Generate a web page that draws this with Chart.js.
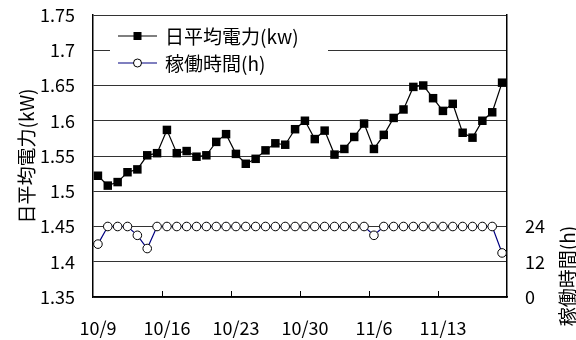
<!DOCTYPE html>
<html>
<head>
<meta charset="utf-8">
<script src="https://cdn.jsdelivr.net/npm/chart.js@4"></script>
<style>
  html, body { margin: 0; padding: 0; background: #fff; }
  #powerChart { display: block; }
</style>
</head>
<body>
<canvas id="powerChart" width="576" height="340"></canvas>
<script>
const jpFont = '"Noto Sans CJK JP", "Noto Sans", sans-serif';

// 日付（10/9〜11/19）
const days = [
  '10/9', '10/10', '10/11', '10/12', '10/13', '10/14', '10/15',
  '10/16', '10/17', '10/18', '10/19', '10/20', '10/21', '10/22',
  '10/23', '10/24', '10/25', '10/26', '10/27', '10/28', '10/29',
  '10/30', '10/31', '11/1', '11/2', '11/3', '11/4', '11/5',
  '11/6', '11/7', '11/8', '11/9', '11/10', '11/11', '11/12',
  '11/13', '11/14', '11/15', '11/16', '11/17', '11/18', '11/19'
];

// 日平均電力 (kW)
const avgPower = [
  1.522, 1.508, 1.513, 1.527, 1.531, 1.551, 1.554,
  1.587, 1.554, 1.557, 1.549, 1.551, 1.570, 1.581,
  1.553, 1.539, 1.546, 1.558, 1.568, 1.566, 1.588,
  1.600, 1.574, 1.586, 1.552, 1.560, 1.577, 1.596,
  1.560, 1.580, 1.604, 1.616, 1.648, 1.650, 1.632,
  1.614, 1.624, 1.583, 1.576, 1.600, 1.612, 1.654
];

// 稼働時間 (h)
const runHours = [
  18, 24, 24, 24, 21, 16.5, 24,
  24, 24, 24, 24, 24, 24, 24,
  24, 24, 24, 24, 24, 24, 24,
  24, 24, 24, 24, 24, 24, 24,
  21, 24, 24, 24, 24, 24, 24,
  24, 24, 24, 24, 24, 24, 15
];

// 軸の目盛り
const powerTicks = [1.35, 1.4, 1.45, 1.5, 1.55, 1.6, 1.65, 1.7, 1.75];
const hourTicks = [0, 12, 24];
const labelEvery = 7;

// 凡例（グラフ内の白抜きボックス）と内向きの目盛り線、右軸タイトル
const extras = {
  id: 'extras',
  afterDraw(chart) {
    const { ctx, chartArea, scales } = chart;
    const x = scales.x;

    // x軸の内向き目盛り（7日ごとの区切り）
    ctx.save();
    ctx.strokeStyle = '#000';
    ctx.lineWidth = 1;
    for (let i = labelEvery; i < days.length; i += labelEvery) {
      const px = Math.round((x.getPixelForValue(i - 1) + x.getPixelForValue(i)) / 2) + 0.5;
      ctx.beginPath();
      ctx.moveTo(px, chartArea.bottom);
      ctx.lineTo(px, chartArea.bottom - 6);
      ctx.stroke();
    }
    ctx.restore();

    // 凡例
    ctx.save();
    const boxL = chartArea.left + 17, boxT = chartArea.top + 6;
    ctx.fillStyle = '#fff';
    ctx.fillRect(boxL, boxT, 218, 58);
    chart.data.datasets.forEach((ds, i) => {
      const cy = boxT + 15 + i * 27;
      const x0 = boxL + 8, x1 = boxL + 47, mx = (x0 + x1) / 2;
      ctx.strokeStyle = ds.borderColor;
      ctx.lineWidth = 1.2;
      ctx.beginPath();
      ctx.moveTo(x0, cy);
      ctx.lineTo(x1, cy);
      ctx.stroke();
      ctx.fillStyle = ds.pointBackgroundColor;
      ctx.strokeStyle = ds.pointBorderColor;
      ctx.lineWidth = 1;
      if (ds.pointStyle === 'rect') {
        ctx.fillRect(mx - 4, cy - 4, 8, 8);
      } else {
        ctx.beginPath();
        ctx.arc(mx, cy, 4, 0, Math.PI * 2);
        ctx.fill();
        ctx.stroke();
      }
      ctx.fillStyle = '#000';
      ctx.font = '19px ' + jpFont;
      ctx.textBaseline = 'middle';
      ctx.textAlign = 'left';
      ctx.fillText(ds.label, boxL + 55, cy + 1);
    });
    ctx.restore();

    // 右軸タイトル
    ctx.save();
    ctx.translate(568, 276);
    ctx.rotate(-Math.PI / 2);
    ctx.fillStyle = '#000';
    ctx.font = '19px ' + jpFont;
    ctx.textAlign = 'center';
    ctx.textBaseline = 'middle';
    ctx.fillText('稼働時間(h)', 0, 0);
    ctx.restore();
  }
};

// 縦軸の上下余白をなくし、描画領域を固定する
const fixVertical = (width) => (s) => {
  s.width = width;
  s.paddingTop = 0;
  s.paddingBottom = 0;
};

const ctx = document.getElementById('powerChart').getContext('2d');
new Chart(ctx, {
  type: 'line',
  data: {
    labels: days,
    datasets: [{
      label: '日平均電力(kw)',
      data: avgPower,
      yAxisID: 'y',
      borderColor: '#000',
      borderWidth: 1.2,
      pointStyle: 'rect',
      pointRadius: 6,
      pointBackgroundColor: '#000',
      pointBorderColor: '#000',
      pointBorderWidth: 0,
      tension: 0
    }, {
      label: '稼働時間(h)',
      data: runHours,
      yAxisID: 'y2',
      borderColor: '#000080',
      borderWidth: 1.2,
      pointStyle: 'circle',
      pointRadius: 4.3,
      pointBackgroundColor: '#fff',
      pointBorderColor: '#000',
      pointBorderWidth: 1,
      tension: 0
    }]
  },
  options: {
    responsive: false,
    animation: false,
    devicePixelRatio: 1,
    layout: { padding: { top: 15, left: 0, right: 0, bottom: 0 } },
    plugins: {
      legend: { display: false },
      tooltip: { enabled: false }
    },
    scales: {
      x: {
        offset: true,
        grid: { display: false },
        border: { display: true, color: '#000', width: 1.5 },
        ticks: {
          autoSkip: false,
          maxRotation: 0,
          padding: 12,
          color: '#000',
          font: { family: jpFont, size: 18 },
          callback: (v, i) => (i % labelEvery === 0 ? days[i] : '')
        },
        afterFit: (s) => { s.height = 43; }
      },
      y: {
        position: 'left',
        min: powerTicks[0],
        max: powerTicks[powerTicks.length - 1],
        afterBuildTicks: (s) => { s.ticks = powerTicks.map(v => ({ value: v })); },
        grid: { color: '#333', lineWidth: 1, drawTicks: false },
        border: { display: true, color: '#000', width: 1.5 },
        ticks: {
          padding: 18,
          color: '#000',
          font: { family: jpFont, size: 18 },
          callback: (v) => String(Math.round(v * 100) / 100)
        },
        title: {
          display: true,
          text: '日平均電力(kW)',
          color: '#000',
          padding: { top: 15, bottom: 0 },
          font: { family: jpFont, size: 19 }
        },
        afterFit: fixVertical(93)
      },
      y2: {
        position: 'right',
        min: 0,
        max: 96,
        afterBuildTicks: (s) => { s.ticks = hourTicks.map(v => ({ value: v })); },
        grid: { display: false, drawTicks: false },
        border: { display: true, color: '#000', width: 1.5 },
        ticks: {
          padding: 18,
          color: '#000',
          font: { family: jpFont, size: 18 }
        },
        afterFit: fixVertical(69)
      }
    }
  },
  plugins: [extras]
});
</script>
</body>
</html>
